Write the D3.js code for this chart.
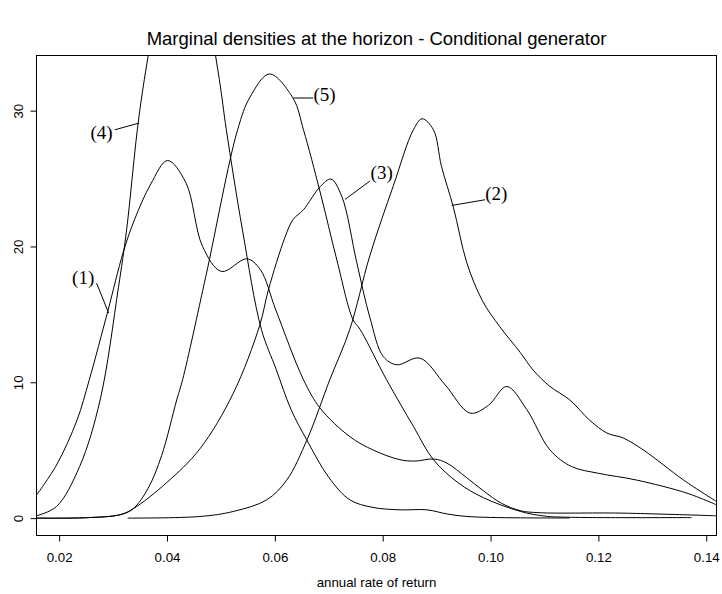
<!DOCTYPE html>
<html>
<head>
<meta charset="utf-8">
<script src="https://cdn.jsdelivr.net/npm/d3@7"></script>
<style>
  body { margin: 0; background: #fff; }
</style>
</head>
<body>
<div id="chart"></div>
<script>
// density curves (x = annual rate of return, y = density)
var curve1X = [0.0158,0.0195,0.0233,0.0256,0.029,0.0319,0.034,0.037,0.0401,0.0435,0.0466,0.0501,0.0548,0.0573,0.0602,0.0653,0.0684,0.0739,0.0783,0.0832,0.086,0.0895,0.0919,0.0955,0.0987,0.102,0.1055,0.109,0.124,0.1419]
var curve1Y = [1.7,3.9,7.2,10.2,15.2,19.6,22.0,24.6,26.33,24.7,20.0,18.16,19.09,18.3,15.3,10.2,8.1,6.0,5.0,4.3,4.2,4.35,4.05,3.0,2.0,1.1,0.55,0.4,0.37,0.17]

var curve2X = [0.0327,0.0461,0.0523,0.0585,0.0622,0.066,0.0702,0.0739,0.0776,0.082,0.0857,0.0873,0.0894,0.0909,0.0931,0.0956,0.0985,0.1017,0.1055,0.1079,0.111,0.1147,0.1184,0.1216,0.1246,0.1284,0.1358,0.1419]
var curve2Y = [0,0.12,0.49,1.35,2.8,5.8,10.2,13.9,19.3,24.5,28.6,29.4,28.6,25.9,22.9,18.8,16.0,14.1,12.2,10.9,9.7,8.7,7.2,6.26,5.9,5.0,2.8,1.22]

var curve3X = [0.0158,0.025,0.0313,0.0337,0.0399,0.0461,0.0523,0.0572,0.0588,0.0619,0.0634,0.0653,0.0684,0.0704,0.0724,0.0752,0.0776,0.0801,0.0826,0.0869,0.0916,0.0962,0.0996,0.103,0.1067,0.111,0.115,0.12,0.1271,0.1364,0.1419]
var curve3Y = [0,0.03,0.25,0.68,2.6,5.1,9.2,14.2,16.8,20.7,22.0,22.7,24.4,24.96,23.7,18.8,14.8,11.9,11.29,11.78,9.8,7.73,8.3,9.69,8.0,5.03,3.8,3.3,2.8,1.84,0.98]

var curve4X = [0.0158,0.0195,0.0238,0.0276,0.031,0.0325,0.0345,0.0358,0.038,0.0405,0.0428,0.045,0.0475,0.0497,0.051,0.054,0.0575,0.0602,0.063,0.0659,0.07,0.0739,0.078,0.0832,0.0882,0.092,0.0956,0.1,0.1055,0.1147]
var curve4Y = [0.17,0.85,3.8,8.7,17.0,21.2,28.6,32.3,37.2,40.8,42,40.9,37.3,32.3,28.6,21.2,13.9,11.0,8.0,5.77,3.0,1.35,0.8,0.61,0.61,0.3,0.12,0.05,0.02,0.01]

var curve5X = [0.0158,0.025,0.0313,0.0337,0.0365,0.039,0.0418,0.0429,0.0472,0.0531,0.0554,0.059,0.0634,0.0653,0.0684,0.0715,0.0745,0.0758,0.0807,0.0857,0.0894,0.094,0.0987,0.1055,0.11,0.115,0.1373]
var curve5Y = [0,0.03,0.25,0.68,2.2,4.6,8.7,10.2,17.8,28.6,31.0,32.7,30.9,28.6,24.0,19.0,14.6,13.9,10.2,6.75,4.3,2.6,1.5,0.5,0.15,0.06,0.04]

var xTicks = [0.02, 0.04, 0.06, 0.08, 0.10, 0.12, 0.14]
var yTicks = [0, 10, 20, 30]

// curve labels: text position and the little pointer line, in data units
var labelText = ["(1)", "(2)", "(3)", "(4)", "(5)"]
var labelPos  = [[0.02445, 17.7], [0.10106, 23.9], [0.07981, 25.4], [0.02787, 28.35], [0.0692, 31.17]]
var lineFrom  = [[0.02694, 17.30], [0.09898, 23.44], [0.07764, 24.82], [0.03033, 28.59], [0.06712, 30.93]]
var lineTo    = [[0.02918, 15.10], [0.0928, 23.02], [0.0730, 23.46], [0.03484, 29.09], [0.06341, 30.93]]

var width = 722, height = 594
var boxLeft = 36.5, boxRight = 716.5, boxTop = 55.5, boxBottom = 535.5

var svg = d3.select("#chart")
  .append("svg")
    .attr("width", width)
    .attr("height", height)

var x = d3.scaleLinear().domain([0.0158, 0.1419]).range([boxLeft, boxRight])
var y = d3.scaleLinear().domain([-1.28, 34.06]).range([boxBottom, boxTop])

// clip the curves to the plotting box (curve 4 runs off the top)
svg.append("clipPath").attr("id", "plotclip")
  .append("rect")
    .attr("x", boxLeft).attr("y", boxTop)
    .attr("width", boxRight - boxLeft).attr("height", boxBottom - boxTop)

var line = d3.line()
  .x(function(d) { return x(d[0]) })
  .y(function(d) { return y(d[1]) })
  .curve(d3.curveCatmullRom.alpha(0.5))

var series = [
  d3.zip(curve1X, curve1Y),
  d3.zip(curve2X, curve2Y),
  d3.zip(curve3X, curve3Y),
  d3.zip(curve4X, curve4Y),
  d3.zip(curve5X, curve5Y)
]

svg.append("g")
    .attr("clip-path", "url(#plotclip)")
  .selectAll("path")
  .data(series)
  .enter()
  .append("path")
    .attr("d", line)
    .attr("fill", "none")
    .attr("stroke", "#000")
    .attr("stroke-width", 1)

// box
svg.append("rect")
    .attr("x", boxLeft).attr("y", boxTop)
    .attr("width", boxRight - boxLeft).attr("height", boxBottom - boxTop)
    .attr("fill", "none")
    .attr("stroke", "#000")
    .attr("stroke-width", 1)

// x axis
var xAxis = svg.append("g")
    .attr("transform", "translate(0," + boxBottom + ")")
    .call(d3.axisBottom(x).tickValues(xTicks).tickFormat(d3.format(".2f")).tickSize(6).tickPadding(11))
xAxis.select(".domain").remove()
xAxis.selectAll("text")
    .attr("font-family", "'Liberation Sans', Arial, Helvetica, sans-serif")
    .attr("font-size", "13.3px")
    .attr("fill", "#000")

// y axis, labels turned like R does
var yAxis = svg.append("g")
    .attr("transform", "translate(" + boxLeft + ",0)")
    .call(d3.axisLeft(y).tickValues(yTicks).tickFormat(d3.format("d")).tickSize(6))
yAxis.select(".domain").remove()
yAxis.selectAll("text")
    .attr("transform", "rotate(-90)")
    .attr("x", 0)
    .attr("y", -13.8)
    .attr("dy", 0)
    .attr("text-anchor", "middle")
    .attr("font-family", "'Liberation Sans', Arial, Helvetica, sans-serif")
    .attr("font-size", "13.3px")
    .attr("fill", "#000")

// curve labels
svg.selectAll("line.ptr")
  .data(labelText)
  .enter()
  .append("line")
    .attr("class", "ptr")
    .attr("x1", function(d, i) { return x(lineFrom[i][0]) })
    .attr("y1", function(d, i) { return y(lineFrom[i][1]) })
    .attr("x2", function(d, i) { return x(lineTo[i][0]) })
    .attr("y2", function(d, i) { return y(lineTo[i][1]) })
    .attr("stroke", "#000")
    .attr("stroke-width", 1)

svg.selectAll("text.lab")
  .data(labelText)
  .enter()
  .append("text")
    .attr("class", "lab")
    .attr("x", function(d, i) { return x(labelPos[i][0]) })
    .attr("y", function(d, i) { return y(labelPos[i][1]) })
    .attr("dy", "0.32em")
    .attr("text-anchor", "middle")
    .attr("font-family", "'Liberation Serif', 'Times New Roman', serif")
    .attr("font-size", "19px")
    .text(function(d) { return d })

// title and axis label
svg.append("text")
    .attr("x", (boxLeft + boxRight) / 2)
    .attr("y", 45)
    .attr("text-anchor", "middle")
    .attr("font-family", "'Liberation Sans', Arial, Helvetica, sans-serif")
    .attr("font-size", "18.5px")
    .text("Marginal densities at the horizon - Conditional generator")

svg.append("text")
    .attr("x", (boxLeft + boxRight) / 2)
    .attr("y", 587)
    .attr("text-anchor", "middle")
    .attr("font-family", "'Liberation Sans', Arial, Helvetica, sans-serif")
    .attr("font-size", "13.3px")
    .text("annual rate of return")
</script>
</body>
</html>
